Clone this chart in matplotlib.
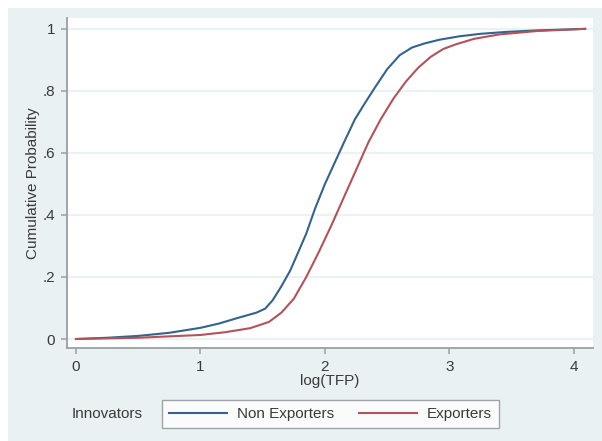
import matplotlib
matplotlib.use("Agg")
import matplotlib.pyplot as plt
from matplotlib.patches import Rectangle
from matplotlib.lines import Line2D

non_exp_x = [0, 0.25, 0.5, 0.75, 1.0, 1.15, 1.3, 1.45, 1.52, 1.58, 1.65, 1.72, 1.78,
             1.85, 1.92, 2.0, 2.08, 2.16, 2.24, 2.32, 2.4, 2.5, 2.6, 2.7, 2.8, 2.92,
             3.08, 3.25, 3.45, 3.7, 4.09]
non_exp_y = [0, 0.004, 0.01, 0.02, 0.036, 0.05, 0.068, 0.085, 0.098, 0.125, 0.17, 0.22, 0.275,
             0.34, 0.42, 0.5, 0.57, 0.64, 0.708, 0.76, 0.81, 0.87, 0.915, 0.94, 0.953, 0.965,
             0.976, 0.984, 0.99, 0.995, 1.0]
exp_x = [0, 0.5, 1.0, 1.2, 1.4, 1.55, 1.65, 1.75, 1.85, 1.95, 2.05, 2.15, 2.25, 2.35,
         2.45, 2.55, 2.65, 2.75, 2.85, 2.95, 3.05, 3.2, 3.4, 3.7, 4.09]
exp_y = [0, 0.004, 0.013, 0.022, 0.035, 0.055, 0.085, 0.13, 0.2, 0.28, 0.365, 0.455, 0.545,
         0.635, 0.71, 0.775, 0.83, 0.875, 0.91, 0.935, 0.95, 0.968, 0.982, 0.993, 1.0]

x_ticks = [0, 1, 2, 3, 4]
x_ticklabels = ["0", "1", "2", "3", "4"]
y_ticks = [0, 0.2, 0.4, 0.6, 0.8, 1.0]
y_ticklabels = ["0", ".2", ".4", ".6", ".8", "1"]
series_labels = ["Non Exporters", "Exporters"]
legend_title = "Innovators"

plt.rcParams['font.family'] = ['Liberation Sans', 'DejaVu Sans']
FS = 11
TXT = '#3a3a3a'
BLUE = '#33638e'
RED = '#b3525b'
AX = '#9a9fa3'

W, H = 602, 441
fig = plt.figure(figsize=(W / 100, H / 100), dpi=100)
fig.patch.set_facecolor('white')
fig.patches.append(Rectangle((8 / W, 0), 1 - 8 / W, (H - 8) / H, transform=fig.transFigure,
                             facecolor='#e9f1f3', edgecolor='none', zorder=-10))

ax = fig.add_axes([67 / W, (H - 348) / H, (593 - 67) / W, (348 - 18) / H])
ax.set_facecolor('white')

for yv in y_ticks:
    ax.axhline(yv, color='#e8f0f2', lw=1.2, zorder=1)

ax.plot(non_exp_x, non_exp_y, color=BLUE, lw=1.5, zorder=3)
ax.plot(exp_x, exp_y, color=RED, lw=1.5, zorder=3)

ax.set_xlim(-0.072, 4.153)
ax.set_ylim(-0.029, 1.035)
ax.set_xticks(x_ticks)
ax.set_xticklabels(x_ticklabels)
ax.set_yticks(y_ticks)
ax.set_yticklabels(y_ticklabels)

for s in ['top', 'right']:
    ax.spines[s].set_visible(False)
for s in ['left', 'bottom']:
    ax.spines[s].set_color(AX)
    ax.spines[s].set_linewidth(1.3)
ax.tick_params(axis='both', colors=AX, length=4.5, width=1.1, labelsize=FS,
               labelcolor=TXT, pad=4)

ax.set_xlabel("log(TFP)", fontsize=FS, color=TXT, labelpad=0)
ax.set_ylabel("Cumulative Probability", fontsize=FS, color=TXT, labelpad=2)

handles = [Line2D([], [], color=BLUE, lw=1.5), Line2D([], [], color=RED, lw=1.5)]
leg = fig.legend(handles, series_labels, loc='center', ncol=2,
                 bbox_to_anchor=(330.5 / W, (H - 414) / H), fontsize=FS,
                 frameon=True, fancybox=False, handlelength=3.8, handletextpad=0.65,
                 columnspacing=1.6, borderpad=0.45, borderaxespad=0)
leg.get_frame().set_edgecolor('#8a8f93')
leg.get_frame().set_linewidth(1.0)
for t in leg.get_texts():
    t.set_color(TXT)

fig.text(72 / W, (H - 414) / H, legend_title, fontsize=FS, color=TXT, ha='left', va='center')

fig.savefig("out.png", dpi=100, facecolor=fig.get_facecolor())
